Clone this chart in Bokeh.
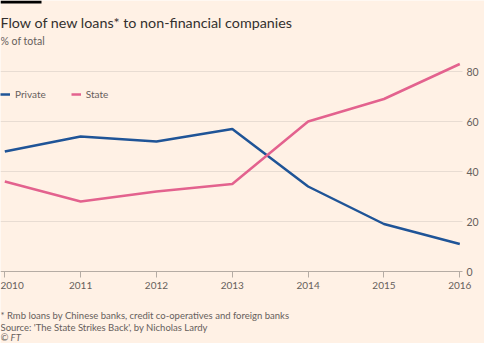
from bokeh.plotting import figure
from bokeh.models import Label, Legend, LegendItem, FixedTicker, BoxAnnotation, Range1d
from bokeh.embed import file_html
from bokeh.resources import INLINE

years = [2010, 2011, 2012, 2013, 2014, 2015, 2016]
private = [48, 54, 52, 57, 34, 19, 11]
state = [36, 28, 32, 35, 60, 69, 83]
y_ticks = [0, 20, 40, 60, 80]
grid_ticks = [20, 40, 60, 80]
title = "Flow of new loans* to non-financial companies"
subtitle = "% of total"
notes = [
    "* Rmb loans by Chinese banks, credit co-operatives and foreign banks",
    "Source: 'The State Strikes Back', by Nicholas Lardy",
]
credit = "© FT"

BG = "#fff1e5"
DARK = "#33302e"
GREY = "#66605c"
BLUE = "#1f5497"
PINK = "#e3628e"
FONT = "Lato"

X0, X_EDGE, X1 = 2009.9433, 2016.0358, 2016.326

p = figure(width=484, height=343, output_backend="svg", toolbar_location=None,
           title=None, x_range=Range1d(X0, X1), y_range=Range1d(-28.8, 108.4),
           y_axis_location="right", min_border_left=0, min_border_top=0,
           min_border_right=0, min_border_bottom=0)
p.background_fill_color = BG
p.border_fill_color = BG
p.outline_line_color = None

r1 = p.line(years, private, line_color=BLUE, line_width=2.5)
r2 = p.line(years, state, line_color=PINK, line_width=2.5)

# x axis, drawn at y = 0 inside the frame
p.xaxis.fixed_location = 0
p.xaxis.bounds = (X0, X_EDGE)
p.xaxis.ticker = FixedTicker(ticks=years)
p.xaxis.major_label_overrides = {years[0]: ""}
p.xaxis.axis_line_color = "#b5aca4"
p.xaxis.major_tick_line_color = "#b5aca4"
p.xaxis.major_tick_out = 6
p.xaxis.major_tick_in = 0
p.xaxis.minor_tick_line_color = None
p.xaxis.major_label_standoff = 4
p.xaxis.major_label_text_font = FONT
p.xaxis.major_label_text_font_size = "10px"
p.xaxis.major_label_text_color = GREY

# y axis on the right edge of the plotting area
p.yaxis.fixed_location = X_EDGE
p.yaxis.ticker = FixedTicker(ticks=y_ticks)
p.yaxis.axis_line_color = None
p.yaxis.major_tick_line_color = None
p.yaxis.minor_tick_line_color = None
p.yaxis.major_tick_out = 0
p.yaxis.major_tick_in = 0
p.yaxis.major_label_standoff = 4
p.yaxis.major_label_text_font = FONT
p.yaxis.major_label_text_font_size = "10.5px"
p.yaxis.major_label_text_color = GREY

p.xgrid.grid_line_color = None
p.ygrid.ticker = FixedTicker(ticks=grid_ticks)
p.ygrid.grid_line_color = "#e8dcd2"
p.ygrid.grid_line_width = 1
g = p.ygrid[0]
if "cross_bounds" in g.properties():
    g.cross_bounds = (X0, X_EDGE)

legend = Legend(items=[LegendItem(label="Private", renderers=[r1]),
                       LegendItem(label="State", renderers=[r2])],
                orientation="horizontal", location=(0, 243),
                glyph_width=10, glyph_height=12, label_height=12,
                label_standoff=5, spacing=25, padding=0, margin=0,
                background_fill_alpha=0, border_line_color=None,
                label_text_font=FONT, label_text_font_size="10px",
                label_text_color=GREY)
p.add_layout(legend, "center")

bar = BoxAnnotation(left=0, right=41, top=343, bottom=340,
                    left_units="screen", right_units="screen",
                    top_units="screen", bottom_units="screen",
                    fill_color="#000000", fill_alpha=1, line_color=None)
p.add_layout(bar)

def lab(text, y, size, color, style="normal", baseline="alphabetic"):
    p.add_layout(Label(x=0, y=y, x_units="screen", y_units="screen", text=text,
                       text_font=FONT, text_font_size=size, text_color=color,
                       text_font_style=style, text_baseline=baseline,
                       text_align="left"))

lab(title, 320.7, "14.3px", DARK)
lab(subtitle, 302.5, "10.5px", GREY)
lab(str(years[0]), 62, "10px", GREY, baseline="top")
lab(notes[0], 28, "9.5px", GREY)
lab(notes[1], 16, "9.5px", GREY)
lab(credit, 6, "9.5px", GREY, style="italic")

open("out.html", "w").write(file_html(p, INLINE))
